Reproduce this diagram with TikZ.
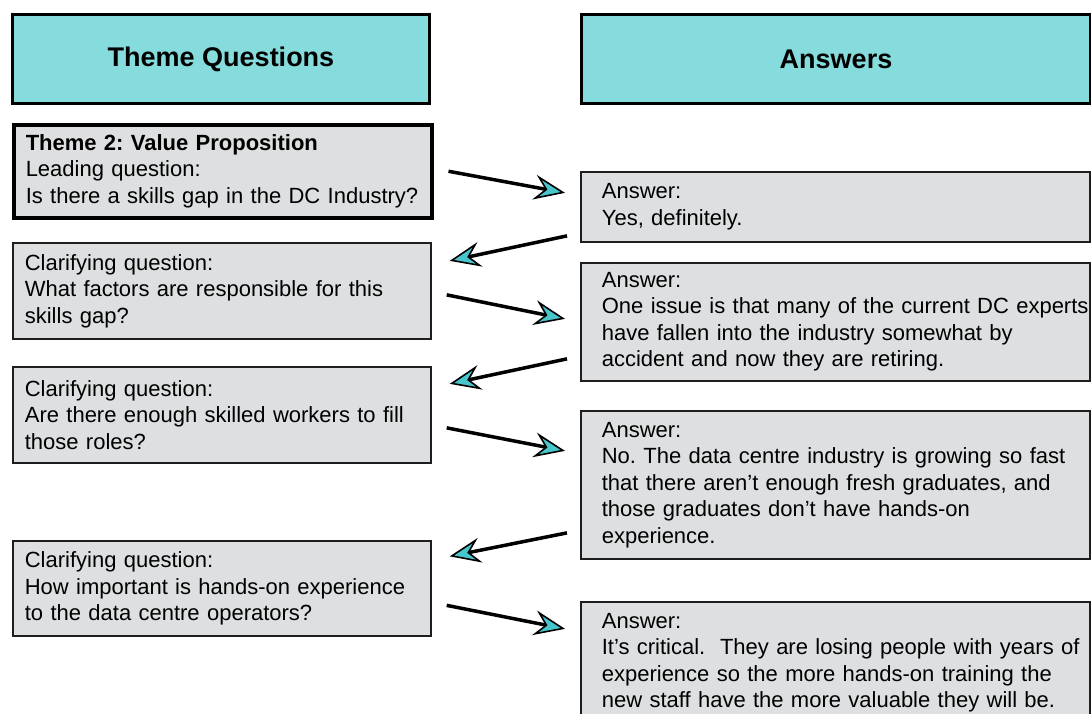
\documentclass[tikz,border=0pt]{standalone}
\usepackage{fontspec}
\setmainfont{Liberation Sans}
\usetikzlibrary{arrows.meta}
\definecolor{headteal}{RGB}{134,220,221}
\definecolor{boxgray}{RGB}{221,223,224}
\definecolor{boxline}{RGB}{30,30,30}
\definecolor{arrowcyan}{RGB}{72,198,204}

\begin{document}
\begin{tikzpicture}[x=1pt, y=-1pt, line join=miter,
                headbox/.style={draw=black, line width=3pt, fill=headteal, anchor=north west,
                    font=\bfseries\fontsize{27}{32}\selectfont, inner sep=0pt},
                questionbox/.style={draw=boxline, line width=1.7pt, fill=boxgray, anchor=north west,
                    align=left, text width=394pt, inner xsep=12pt, inner ysep=0pt,
                    font=\fontsize{22}{26.5}\selectfont},
                themebox/.style={questionbox, draw=black, line width=3.5pt},
                answerbox/.style={questionbox, text width=467pt, inner xsep=21pt},
                flowarrow/.style={line width=3.5pt,
                    -{Stealth[length=31pt, width=25pt, inset=11pt, line width=1.6pt, fill=arrowcyan]}}]
            \frenchspacing
            \useasboundingbox (0,0) rectangle (1091,713);
            % Headers
            \node[headbox, minimum width=417pt, minimum height=89pt] (qhead) at (11,13) {Theme Questions};
            \node[headbox, minimum width=509pt, minimum height=89pt] (ahead) at (580,13) {Answers};
            % Question column
            \node[themebox, minimum height=93pt] (q0) at (12,123) {\textbf{Theme 2: Value Proposition}\\
                Leading question:\\
                Is there a skills gap in the DC Industry?};
            \node[questionbox, minimum height=96pt] (q1) at (12,242) {Clarifying question:\\
                What factors are responsible for this\\
                skills gap?};
            \node[questionbox, minimum height=96pt] (q2) at (12,366) {Clarifying question:\\
                Are there enough skilled workers to fill\\
                those roles?};
            \node[questionbox, minimum height=95pt] (q3) at (12,540) {Clarifying question:\\
                How important is hands-on experience\\
                to the data centre operators?};
            % Answer column
            \node[answerbox, minimum height=70pt] (a1) at (580,171) {Answer:\\
                Yes, definitely.};
            \node[answerbox, minimum height=118pt] (a2) at (580,262) {Answer:\\
                \mbox{One issue is that many of the current DC experts}\\
                have fallen into the industry somewhat by\\
                accident and now they are retiring.};
            \node[answerbox, minimum height=148pt] (a3) at (580,410) {Answer:\\
                No. The data centre industry is growing so fast\\
                that there aren’t enough fresh graduates, and\\
                those graduates don’t have hands-on\\
                experience.};
            \node[answerbox, minimum height=122pt] (a4) at (580,601) {Answer:\\
                \mbox{It’s critical.\ \ They are losing people with years of}\\
                experience so the more hands-on training the\\
                new staff have the more valuable they will be.};
            % Arrows back and forth
        \foreach \from/\fx/\fy/\to/\tx/\ty in {
            q0.east/15/0/a1.west/-15/14,
            a1.west/-13/-29/q1.east/18/30,
            q1.east/15/-4/a2.west/-15/3,
            a2.west/-13/-37/q2.east/18/31,
            q2.east/15/-13/a3.west/-15/34,
            a3.west/-13/-48/q3.east/18/32,
            q3.east/15/-17/a4.west/-15/34} {
            \draw[flowarrow] ([xshift=\fx pt, yshift=\fy pt]\from) -- ([xshift=\tx pt, yshift=\ty pt]\to);
        }
\end{tikzpicture}
\end{document}
